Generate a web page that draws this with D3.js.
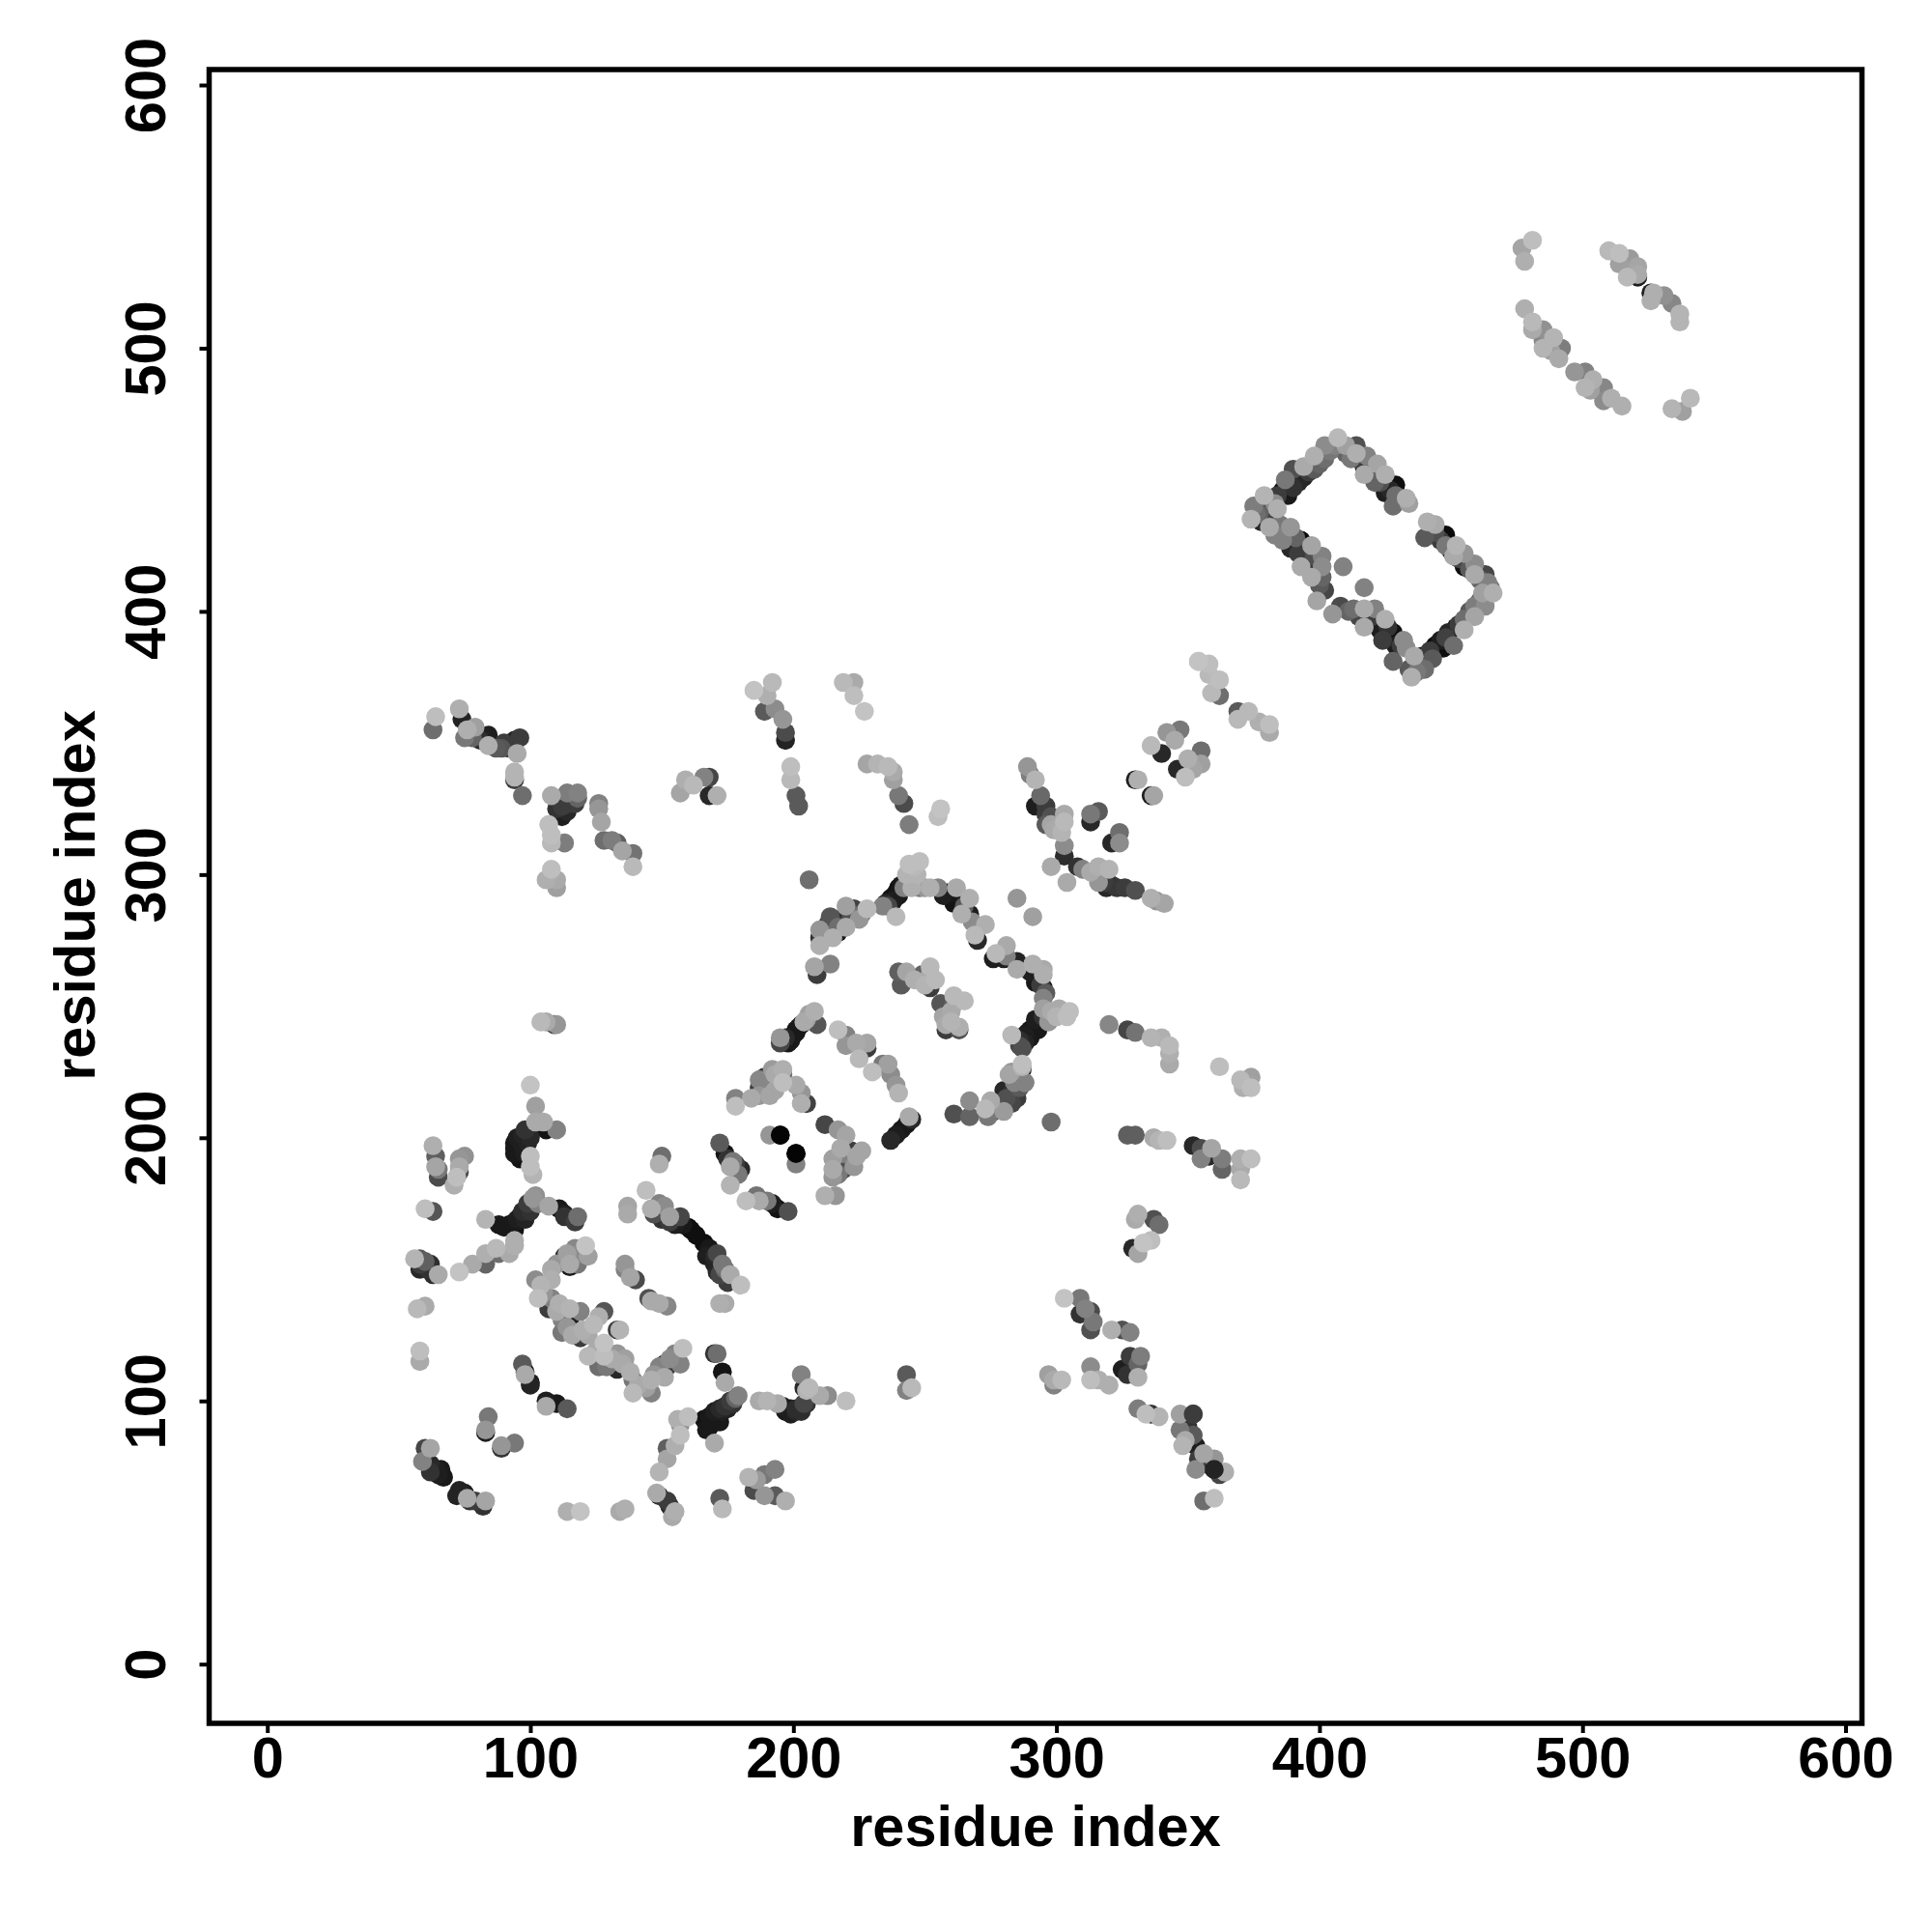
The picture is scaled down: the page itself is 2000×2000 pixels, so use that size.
<!DOCTYPE html>
<html><head><meta charset="utf-8">
<script src="https://cdn.jsdelivr.net/npm/d3@7"></script>
<style>html,body{margin:0;padding:0;background:#fff}</style></head><body>
<div id="chart"></div>
<script>
const tickValues=[0,100,200,300,400,500,600];
const axisTitle="residue index";
// each contact: [residue x, residue y, grey level]
const lowerLeft=[[104,244,185],[106,244,170],[109,243,70],[110,243,150],
[63,197,175],[64,193,95],[65,185,75],[64,189,165],[65,188,120],[71,182,175],[73,187,70],[72,185,190],[73,189,170],[73,192,150],[75,193,145],
[100,220,195],[102,212,160],[94,198,25],[94,196,25],[96,192,20],[95,200,30],[97,201,35],[98,203,50],[106,203,20],[102,206,170],[105,206,170],[110,203,130],[98,194,30],[100,193,190],[100,189,190],[101,186,180],
[60,173,190],[63,172,85],[83,169,180],[88,167,25],[92,167,20],[94,168,25],[95,169,30],[97,172,45],[99,175,60],[101,177,150],[102,178,145],[107,174,165],[111,173,25],[113,171,30],[117,168,60],[118,170,110],
[56,154,180],[58,154,90],[60,153,95],[58,150,40],[62,152,45],[65,148,170],[73,149,195],[78,152,170],[83,152,100],[83,156,175],[88,156,110],[87,158,185],[92,156,170],[94,159,175],[94,161,175],
[60,136,170],[57,135,185],[58,119,190],[58,115,170]];
const lowerLeftCorner=[[60,82,70],[62,82,165],[59,77,130],[62,76,40],[66,74,25],[65,72,30],[73,66,35],[75,65,30],[76,63,170],[82,60,50],[79,62,60],[83,62,165],
[84,94,120],[83,88,30],[83,89,150],[89,82,50],[89,83,150],[94,84,120],
[97,114,90],[98,110,170],[98,111,25],[100,106,35],[100,107,30],[106,100,30],[106,98,170],[110,99,25],[114,97,90]];
const arcCluster=[[107,135,60],[115,151,25],[121,159,195],[117,158,135],[119,156,140],[114,156,160],[115,152,170],[110,152,150],[108,150,170],[108,146,175],[102,146,140],[104,144,180],[103,139,190],
[108,139,130],[111,137,175],[110,134,170],[115,131,30],[115,135,180],[119,134,130],[128,134,85],[126,132,175],[112,126,120],[119,124,60],[116,125,170],[120,127,175],[124,129,185],[133,127,60],[134,127,180],
[126,113,110],[122,117,185],[125,119,170],[128,122,195],[128,117,190],[133,112,40],[133,118,150],[135,114,170],[138,111,175],[139,108,120],[139,103,185],[146,103,130],[146,108,175],[151,114,40],[151,109,170],[153,116,140],[157,114,130],[155,118,130],[158,120,190]];
const diagonalBand=[[144,180,190],[149,175,130],[146,173,175],[151,174,140],[150,169,50],[153,170,160],[156,168,25],[157,170,70],[158,167,25],[160,166,10],
[166,160,15],[168,158,25],[171,156,70],[170,152,35],[173,152,120],[171,149,40],[175,145,60],[176,148,170],[180,144,190],[174,137,170],[172,137,175],
[137,174,165],[137,171,170],[150,193,110],[149,190,175],[136,152,150],[136,150,130],[138,147,165],[140,146,75],[145,139,80],[146,138,170],[149,137,170],[152,136,135]];
const innerGrid=[[172,198,90],[174,194,20],[177,191,120],[176,189,170],[179,186,120],[176,182,180],[186,178,115],[182,176,190],[187,176,170],[190,176,120],[192,175,30],[194,173,20],[198,172,80],
[191,201,150],[195,201,5],[201,190,130],[201,194,5],
[178,212,190],[178,215,130],[187,216,150],[184,215,170],[187,222,135],[191,219,100],[191,216,165],[192,226,155],[196,226,175],[196,224,110],[196,221,190],[201,220,170],[203,217,150],[203,213,175],[205,213,65],
[212,178,175],[216,178,150],[215,185,150],[215,192,160],[219,188,80],[219,194,130],[223,189,150],[226,195,165],[212,205,70],[217,203,150],[220,201,165]];
const lowerCentre=[[114,58,175],[119,58,195],[134,58,170],[136,59,175],[148,65,170],[149,64,40],[152,62,60],[153,60,40],[154,56,170],[155,58,175],[172,63,90],[173,59,185],
[183,71,180],[186,70,155],[189,72,120],[193,74,130],[185,66,75],[189,64,150],[193,64,90],[197,62,175],
[149,73,180],[152,78,165],[152,82,95],[155,83,175],[157,87,190],[156,93,175],[160,94,190],[157,91,145],
[166,93,20],[168,91,20],[168,94,25],[170,96,30],[172,97,40],[174,98,50],[176,100,60],[178,101,100],[179,102,130],[170,84,170],
[170,118,50],[171,118,110],[173,111,20],[174,107,170],
[197,96,25],[199,95,30],[201,97,45],[204,99,70],[187,100,170],[190,100,180],[194,99,170],[203,110,130],[205,104,180],[206,105,185],[210,102,170],[213,102,140],[220,100,190]];
const lowerRight=[[320,243,135],[327,241,70],[330,240,115],[336,238,180],[340,238,175],[343,235,185],[343,232,175],[343,228,170],
[362,227,190],[370,222,185],[374,223,160],[371,219,175],[374,219,190],
[327,201,95],[330,201,95],[337,200,170],[339,199,180],[342,199,190],[352,197,40],[355,196,75],[359,196,165],[355,192,130],[358,193,40],[363,192,125],[363,188,100],[370,192,175],[374,192,190],[370,188,170],[370,184,185],
[331,171,175],[330,169,170],[337,169,80],[339,167,110],[333,160,195],[336,161,190],[329,158,40],[331,156,165],
[303,139,195],[309,139,120],[311,135,130],[309,133,50],[313,134,75],[313,127,80],[314,130,120],[321,127,175],[325,127,80],[328,126,130],
[328,117,60],[325,112,30],[327,110,50],[331,114,100],[332,117,125],[331,109,175],[313,113,140],[316,108,175],[320,106,175],[313,108,190],
[297,110,160],[299,108,170],[299,106,130],[302,108,185],[243,110,90],[243,104,130],[245,105,185],
[331,97,125],[334,95,190],[336,95,50],[339,94,180],[347,95,160],[349,93,20],[352,95,60],[347,89,120],[353,83,30],[348,83,180],[356,80,165],[353,74,140],[360,74,35],[364,73,175],[356,62,110],[360,63,190]];
const upperLeft=[[63,355,110],[64,360,190],[73,363,175],[74,359,35],[75,352,120],[76,355,175],[79,356,160],[84,353,30],[84,349,175],[89,348,85],[92,348,60],[94,351,35],[96,352,60],[95,346,170],[94,336,60],[94,339,180],[94,337,180],[97,330,110],
[108,330,170],[115,327,60],[110,325,50],[112,322,30],[114,331,125],[118,331,130],[107,319,190],[108,315,190],[108,312,185],[113,312,125],[108,302,190],[106,298,175],[110,295,160],[110,298,170],
[126,327,130],[126,325,150],[127,320,165],[128,313,110],[131,313,125],[133,312,95],[135,309,165],[139,308,115],[139,303,185],
[157,331,165],[159,336,175],[162,334,185],[166,337,130],[168,337,70],[168,330,40],[171,330,175],
[185,370,195],[192,373,185],[190,368,175],[189,362,90],[193,363,140],[197,351,35],[197,354,75],[196,359,150],[199,341,190],[199,336,185],[201,330,90],[202,326,90],
[219,373,185],[223,373,170],[223,368,190],[227,362,195],[228,342,165],[232,342,180],[236,341,185],[238,339,170],[238,336,160],[240,330,120],[242,327,75],[244,319,125],[256,325,195],[255,322,190]];
const ringArc=[[206,298,110],[210,273,175],[210,276,50],[210,279,150],[209,262,60],[208,265,165],[214,266,130],[214,284,85],[214,279,70],[215,276,175],[217,278,25],[217,280,110],[220,288,160],[220,280,170],[223,287,65],[225,283,150],[228,287,185],
[234,288,130],[236,288,70],[237,289,25],[237,291,20],[239,293,20],[240,295,15],[239,284,185],[241,296,25],[246,299,170],[244,304,190],[248,305,190],[246,303,185],
[248,295,120],[252,295,175],[255,295,130],[258,293,20],[260,291,20],[262,295,170],[262,293,25],[267,291,175],[264,285,175],[267,285,30],[268,282,140],[270,275,40],[269,277,185],[273,281,175],[285,291,150],[291,284,160],
[277,270,185],[276,268,30],[281,273,170],[280,268,30],[281,269,130],[285,267,35],[285,264,170],[291,266,175],[292,259,25],[292,262,15],[295,257,25],[295,262,175],[295,253,130],[295,249,160],
[305,248,190],[304,246,190],[300,246,180],[297,244,150],[294,244,25],[292,242,25],[290,241,20],[288,239,30],[286,237,45],[287,234,80],[283,239,185],[287,226,30],[287,228,190],[288,221,130],[282,224,165],
[240,263,95],[243,263,165],[241,258,90],[246,260,175],[249,262,100],[252,265,185],[252,257,60],[254,260,185],[256,251,85],[261,254,185],[261,251,100],[265,252,185],[257,246,165],[258,241,60],[263,242,175],[263,241,80],[258,243,170],
[195,238,150],[195,236,70],[198,236,25],[200,239,20],[201,241,20],[203,243,20],[204,244,170],[208,248,175],[209,243,85],
[217,241,190],[220,239,130],[220,235,150],[224,236,170],[228,234,60],[228,236,165],[225,230,185],[234,228,120],[236,228,160],[237,224,140],[230,225,190],[239,220,150],[240,217,180],
[261,209,80],[267,214,140],[267,208,100],[273,211,185],[276,210,60],[280,210,155],[275,214,170],[283,213,70],[280,218,40],[284,221,130],[283,225,150],[288,221,130],[287,227,180],[298,206,110]];
const upperRight=[[289,341,150],[290,338,125],[292,336,180],[294,330,105],[292,326,30],[296,323,60],[296,319,90],[298,319,165],[303,320,185],[302,316,180],[303,307,45],[303,311,140],[298,303,170],[304,297,170],
[313,320,40],[313,323,120],[316,324,90],[321,312,40],[324,316,110],[324,312,140],[308,303,50],[310,302,130],[316,303,175],[320,302,180],[319,295,40],[316,297,150],[323,295,55],[326,295,60],[330,294,80],[336,291,175],[338,290,150],[341,289,165],
[330,336,30],[331,336,175],[336,330,30],[337,330,165],[336,349,185],[340,346,40],[342,354,150],[345,351,170],[347,355,120],[346,340,40],[349,337,190],[352,340,165],[350,344,175],[355,342,160],[355,347,110],
[354,381,195],[358,380,190],[358,376,185],[362,374,190],[359,369,185],[362,368,110],[369,362,90],[369,359,185],[373,362,185],[377,358,175],[381,357,190],[381,354,170]];
const rectangleRing=[[374,435,180],[375,440,125],[378,434,40],[379,444,180],[381,432,170],[382,443,35],[383,441,140],[384,439,175],[383,429,130],[386,446,15],[388,444,25],[387,450,120],[390,447,50],[390,454,80],[394,451,35],[394,455,170],[398,454,90],[398,459,175],[402,463,140],[402,458,110],
[406,463,130],[410,460,100],[410,463,160],[407,466,185],[414,463,80],[414,460,175],[417,455,15],[417,452,170],[418,459,130],[421,449,100],[422,456,165],[425,445,30],[425,452,175],[429,448,15],[428,440,110],[429,444,110],[433,443,175],[434,441,160],
[440,428,90],[444,430,80],[441,434,175],[444,433,170],[448,429,10],[448,425,120],[451,421,170],[452,425,180],[455,417,15],[455,422,150],[459,418,140],[459,414,170],[463,414,70],[464,411,130],[462,407,160],[466,407,175],[463,402,140],
[459,402,125],[459,398,165],[455,397,110],[455,393,175],[452,394,25],[451,387,110],[448,390,65],[447,386,15],[444,387,10],[443,382,90],[441,382,40],[439,383,30],[440,378,110],[435,375,175],[436,383,170],
[433,386,140],[432,389,140],[428,392,15],[428,381,100],[425,397,175],[424,389,60],[421,401,130],[419,396,25],[417,394,170],[417,401,170],[413,401,110],[408,402,75],[405,399,150],[417,409,130],[409,417,130],
[402,408,70],[399,404,165],[393,417,170],[394,421,40],[397,417,25],[397,413,170],[401,413,100],[401,417,140],[401,421,130],[397,425,165],[393,427,10],[389,424,40],[389,432,150],[385,433,120],[386,427,130]];
const farCorner=[[477,538,165],[478,533,175],[481,541,190],[510,537,185],[514,536,190],[518,534,155],[514,532,160],[517,527,185],[521,527,30],[521,531,165],[521,528,170],[526,521,30],[527,521,175],[526,518,175],[531,520,145],[534,517,135],[537,513,180],[537,510,180],
[478,515,175],[481,510,185],[481,507,170],[485,507,145],[485,503,135],[485,500,180],[489,504,180],[488,499,160],[491,496,170],[492,500,125],
[497,491,150],[501,491,130],[501,485,180],[503,484,160],[504,488,175],[508,485,135],[508,480,140],[511,481,175],[515,478,175],[534,477,180],[538,476,160],[541,481,185]];
const denseRing=[[392,449,40],[396,453,60],[388,448,30],[384,444,60],[380,441,80],[376,437,110],[400,456,100],[404,461,120],
[412,458,120],[416,457,60],[420,452,60],[423,449,80],[427,446,40],[431,443,90],[446,427,60],[450,423,40],[453,420,70],[457,416,90],[461,412,100],[465,409,120],
[461,404,100],[457,400,90],[453,395,60],[449,392,40],[446,389,30],[442,385,60],[438,380,90],[437,377,120],[434,378,90],
[431,387,60],[429,387,30],[426,394,50],[423,393,30],[420,398,60],[415,398,70],[411,400,100],[383,435,60],[386,432,50],[388,429,70],[391,425,30],[392,422,60],[395,419,50],[398,421,80],[400,410,90],[391,428,100],[380,436,70],[377,437,100]];
const denseArc=[[212,276,70],[213,281,60],[218,283,50],[222,284,80],[226,285,110],[235,289,40],[238,290,30],[240,292,25],[242,295,130],[250,295,150],[257,292,30],[259,293,25],[261,289,20],[265,288,90],
[292,245,30],[290,238,25],[288,236,35],[293,241,25],[295,246,50],[286,235,70],[289,240,25],[298,248,170],[301,249,170],[294,258,60],[296,255,90],[290,263,30],[295,264,170],
[285,215,60],[281,215,80],[278,212,70],[283,217,50],[285,223,30],[286,219,90],[274,208,120],[197,238,40],[199,237,25],[201,240,25],[202,242,25],[205,245,160],[206,247,160],[245,295,175],[243,300,180],[247,300,180],
[239,201,30],[241,203,25],[237,199,40],[243,205,20],[245,207,40],[244,208,170],[252,262,170],[250,258,180],[260,248,170],[260,244,180]];
const denseChains=[[96,170,25],[94,165,20],[90,166,25],[98,169,35],[100,172,50],[103,175,130],[94,194,25],[97,197,30],[100,200,40],[99,198,35],
[161,165,15],[155,167,30],[153,168,60],[147,171,80],[163,163,15],[167,155,30],[170,155,40],[172,148,70],[174,150,110],
[168,90,20],[171,94,25],[173,96,30],[175,97,35],[177,99,50],[167,89,25],[170,92,20],[172,92,25],[199,97,30],[201,96,40],[203,96,45],[205,99,50],[196,98,30],[204,105,40],
[62,73,50],[64,74,30],[67,71,25],[72,64,35],[77,62,50],[58,152,60],[61,150,50],[63,148,45],[178,190,60],[175,192,50],[180,188,40],
[118,152,120],[122,155,160],[113,155,50],[116,154,100],[105,141,150],[110,135,90],[112,131,130],[114,128,150],[122,125,170],[127,119,140],[129,113,120],[131,116,170],[136,116,160],[141,106,170],[144,105,160],[147,110,150],[149,113,130],[152,113,60],
[350,90,50],[352,87,90],[349,85,170],[354,78,60],[357,76,50],[362,72,70],[360,78,150],[318,297,60],[321,296,50],[313,301,170],[298,322,80],[296,326,60],[299,317,170],[301,321,50],[303,323,170],
[118,329,100],[114,324,40],[117,327,60],[112,326,60],[78,352,100],[81,351,45],[87,348,90],[90,350,60],[113,170,50],
[192,220,130],[193,218,165],[193,224,170],[189,219,130],[189,223,60],[187,219,60],[223,192,130],[221,191,60],[217,186,120],[215,188,170],[224,193,165],[222,195,60],[218,196,170]];
// contacts that sit above their neighbours in the reference
const topContacts=[[195,201,5],[201,194,5],[352,95,60],[360,74,35],[354,381,195]];

const contacts=[].concat(lowerLeft,lowerLeftCorner,arcCluster,diagonalBand,innerGrid,lowerCentre,lowerRight,upperLeft,ringArc,upperRight,rectangleRing,farCorner,denseRing,denseArc,denseChains);
const ordered=d3.sort(contacts,d=>d[2]).concat(topContacts);

const width=2000,height=2000;
const svg=d3.select("#chart").append("svg").attr("width",width).attr("height",height).style("display","block").style("background","#fff");
const x=d3.scaleLinear().domain([0,600]).range([276.7,1910.5]);
const y=d3.scaleLinear().domain([0,600]).range([1722.7,88]);
const font='"Liberation Sans",Arial,sans-serif';

svg.append("g").selectAll("circle").data(ordered).join("circle")
  .attr("cx",d=>x(d[0])).attr("cy",d=>y(d[1])).attr("r",9.8)
  .attr("fill",d=>d3.rgb(d[2],d[2],d[2]));

svg.append("rect").attr("x",216.5).attr("y",72).attr("width",1711).attr("height",1712)
  .attr("fill","none").attr("stroke","#000").attr("stroke-width",5.5);

const gx=svg.append("g").attr("transform","translate(0,1784)")
  .call(d3.axisBottom(x).tickValues(tickValues).tickSize(10).tickPadding(16).tickFormat(d3.format("d")));
const gy=svg.append("g").attr("transform","translate(216.5,0)")
  .call(d3.axisLeft(y).tickValues(tickValues).tickSize(10).tickPadding(0).tickFormat(d3.format("d")));
[gx,gy].forEach(g=>{g.select(".domain").remove();g.selectAll("line").attr("stroke","#000").attr("stroke-width",4);});
gx.selectAll("text").attr("fill","#000").attr("font-family",font).attr("font-weight",700).attr("font-size",59.5)
  .attr("y",null).attr("dy",null).attr("transform",null).attr("y",56);
gy.selectAll("text").attr("fill","#000").attr("font-family",font).attr("font-weight",700).attr("font-size",59.5)
  .attr("x",null).attr("dy",null).attr("text-anchor","middle")
  .attr("transform","translate(-46,0) rotate(-90)");

svg.append("text").attr("x",1072).attr("y",1911).attr("text-anchor","middle")
  .attr("font-family",font).attr("font-weight",700).attr("font-size",59.5).text(axisTitle);
svg.append("text").attr("transform","translate(98,927) rotate(-90)").attr("text-anchor","middle")
  .attr("font-family",font).attr("font-weight",700).attr("font-size",59.5).text(axisTitle);
</script></body></html>
